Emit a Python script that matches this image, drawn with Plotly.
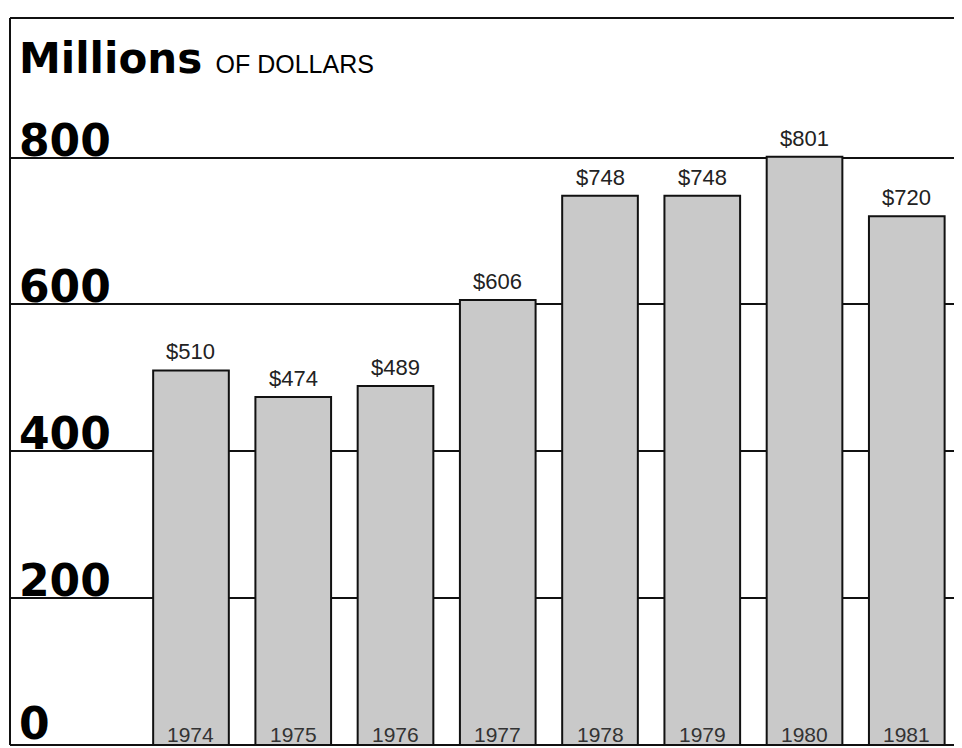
import plotly.graph_objects as go

years = ["1974", "1975", "1976", "1977", "1978", "1979", "1980", "1981"]
values = [510, 474, 489, 606, 748, 748, 801, 720]
value_labels = ["$510", "$474", "$489", "$606", "$748", "$748", "$801", "$720"]
y_ticks = [0, 200, 400, 600, 800]

x_pos = list(range(len(years)))

fig = go.Figure()
fig.add_trace(go.Bar(
    x=x_pos, y=values, width=0.74,
    marker=dict(color="#c9c9c9", line=dict(color="#111111", width=2)),
    hoverinfo="skip",
))

# value labels above the bars, year labels inside the foot of each bar
for x, v, lab, yr in zip(x_pos, values, value_labels, years):
    fig.add_annotation(x=x, y=v, text=lab, showarrow=False, yanchor="bottom", yshift=4,
                       font=dict(family="Liberation Sans, Arial", size=22, color="#222222"))
    fig.add_annotation(x=x, y=0, text=yr, showarrow=False, yanchor="bottom", yshift=-3,
                       font=dict(family="Liberation Sans, Arial", size=21, color="#333333"))

# big bold y tick labels above each gridline
for t in y_ticks:
    fig.add_annotation(x=0.007, xref="paper", y=t, yref="y", text="<b>%d</b>" % t, showarrow=False,
                       xanchor="left", yanchor="bottom", yshift=-10 if t else -6,
                       font=dict(family="DejaVu Sans", size=44, color="#000000"))

fig.add_annotation(x=0.007, xref="paper", y=1.0, yref="paper", yshift=-14, showarrow=False,
                   xanchor="left", yanchor="top",
                   text="<b>Millions</b> <span style='font-size:25px;font-family:Liberation Sans'>OF DOLLARS</span>",
                   font=dict(family="DejaVu Sans", size=42, color="#000000"))

# frame lines: top and left
fig.add_shape(type="line", xref="paper", yref="paper", x0=0, x1=1, y0=1, y1=1,
              line=dict(color="#111111", width=2))
fig.add_shape(type="line", xref="paper", yref="paper", x0=0, x1=0, y0=0, y1=1,
              line=dict(color="#111111", width=2))

# page body adds an 8px offset, so the figure is 8px smaller each way
fig.update_layout(
    width=954, height=740,
    margin=dict(l=2, r=0, t=10, b=3),
    paper_bgcolor="white", plot_bgcolor="white",
    showlegend=False,
    xaxis=dict(range=[-1.77, 7.54], showticklabels=False, showgrid=False, zeroline=False,
               ticks=""),
    yaxis=dict(range=[0, 990], tickvals=y_ticks, showticklabels=False, showgrid=True,
               gridcolor="#111111", gridwidth=2, zeroline=True, zerolinecolor="#111111",
               zerolinewidth=2, ticks=""),
)

fig.write_html("out.html")
